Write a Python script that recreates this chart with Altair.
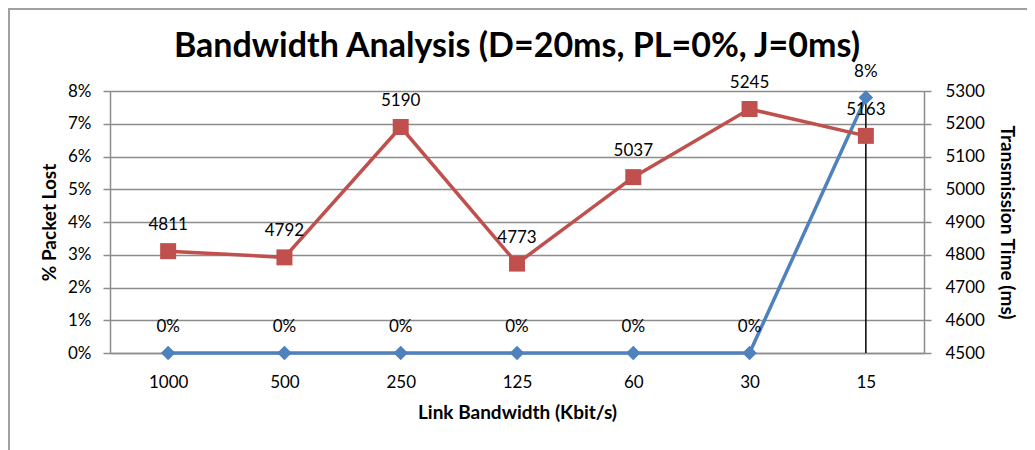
import altair as alt
import pandas as pd

# ---- data ----
bandwidth = ["1000", "500", "250", "125", "60", "30", "15"]
packet_lost = [0.0, 0.0, 0.0, 0.0, 0.0, 0.0, 0.078]
trans_time = [4811, 4792, 5190, 4773, 5037, 5245, 5163]
pct_ticks = [0.0, 0.01, 0.02, 0.03, 0.04, 0.05, 0.06, 0.07, 0.08]
time_ticks = [4500, 4600, 4700, 4800, 4900, 5000, 5100, 5200, 5300]

df = pd.DataFrame({"bw": bandwidth, "pl": packet_lost, "tt": trans_time})

FONT = "Lato"
BLUE = "#4F81BD"
RED = "#C0504D"
GRID = "#8c8c8c"
W, H = 814, 262
PL, PT, PR, PB = 102, 83, 103, 100
LBL = 17
TTL = 19

x_enc = alt.X(
    "bw:N",
    sort=bandwidth,
    scale=alt.Scale(type="point", padding=0.5),
    axis=alt.Axis(
        title="Link Bandwidth  (Kbit/s)",
        labelAngle=0,
        ticks=False,
        domainColor=GRID,
        domainWidth=1.5,
        labelPadding=21,
        labelFontSize=LBL,
        labelFont=FONT,
        labelColor="#000",
        titleFont=FONT,
        titleFontSize=TTL,
        titleFontWeight="bold",
        titleColor="#000",
        titlePadding=13,
    ),
)

y_left = alt.Y(
    "pl:Q",
    scale=alt.Scale(domain=[0, 0.08], nice=False, zero=True),
    axis=alt.Axis(
        title="% Packet Lost",
        values=pct_ticks,
        format=".0%",
        grid=True,
        gridColor=GRID,
        gridWidth=1.5,
        domainColor=GRID,
        domainWidth=1.5,
        tickColor=GRID,
        tickSize=7,
        tickWidth=1.5,
        labelPadding=12,
        labelFontSize=LBL,
        labelFont=FONT,
        labelColor="#000",
        titleFont=FONT,
        titleFontSize=TTL,
        titleFontWeight="bold",
        titleColor="#000",
        titlePadding=8,
    ),
)

y_right = alt.Y(
    "tt:Q",
    scale=alt.Scale(domain=[4500, 5300], nice=False, zero=False),
    axis=alt.Axis(
        title="Transmission  Time  (ms)",
        orient="right",
        values=time_ticks,
        format="d",
        grid=False,
        domainColor=GRID,
        domainWidth=1.5,
        tickColor=GRID,
        tickSize=7,
        tickWidth=1.5,
        labelPadding=14,
        labelFontSize=LBL,
        labelFont=FONT,
        labelColor="#000",
        titleFont=FONT,
        titleFontSize=TTL,
        titleFontWeight="bold",
        titleColor="#000",
        titlePadding=12,
    ),
)

base = alt.Chart(df)

drop = base.transform_filter(alt.datum.bw == "15").mark_rule(
    color="#000", strokeWidth=1.5
).encode(x=x_enc, y=y_left, y2=alt.Y2(datum=0))

blue_line = base.mark_line(color=BLUE, strokeWidth=3.5).encode(x=x_enc, y=y_left)
blue_pts = base.mark_point(
    shape="diamond", filled=True, size=210, color=BLUE, opacity=1
).encode(x=x_enc, y=y_left)
blue_txt = base.mark_text(
    dy=-26, fontSize=LBL, font=FONT, color="#000"
).encode(x=x_enc, y=y_left, text=alt.Text("pl:Q", format=".0%"))

red_line = base.mark_line(color=RED, strokeWidth=3.5).encode(x=x_enc, y=y_right)
red_pts = base.mark_point(
    shape="square", filled=True, size=256, color=RED, opacity=1
).encode(x=x_enc, y=y_right)
red_txt = base.mark_text(
    dy=-26, fontSize=LBL, font=FONT, color="#000"
).encode(x=x_enc, y=y_right, text="tt:Q")

# thin outer frame of the chart (left and top edges)
frame_left = base.mark_rule(color="#a0a0a0", strokeWidth=2).encode(
    x=alt.value(-PL + 1), y=alt.value(-PT), y2=alt.value(H + PB)
)
frame_top = base.mark_rule(color="#a0a0a0", strokeWidth=2).encode(
    x=alt.value(-PL + 1), x2=alt.value(W + PR), y=alt.value(-PT + 1)
)

left = alt.layer(drop, blue_line, blue_pts, blue_txt)
right = alt.layer(red_line, red_pts, red_txt)

chart = (
    alt.layer(left, right, frame_left, frame_top)
    .resolve_scale(y="independent")
    .properties(
        width=W,
        height=H,
        padding={"left": PL, "top": PT, "right": PR, "bottom": PB},
        autosize=alt.AutoSizeParams(type="none"),
        title=alt.TitleParams(
            "Bandwidth Analysis (D=20ms, PL=0%, J=0ms)",
            font=FONT,
            fontSize=34,
            fontWeight="bold",
            color="#000",
            anchor="middle",
            frame="group",
            offset=0,
            dy=57,
        ),
    )
    .configure_view(stroke=None)
    .configure(background="white")
)

chart.save("out.html", embed_options={"renderer": "svg", "actions": False})
